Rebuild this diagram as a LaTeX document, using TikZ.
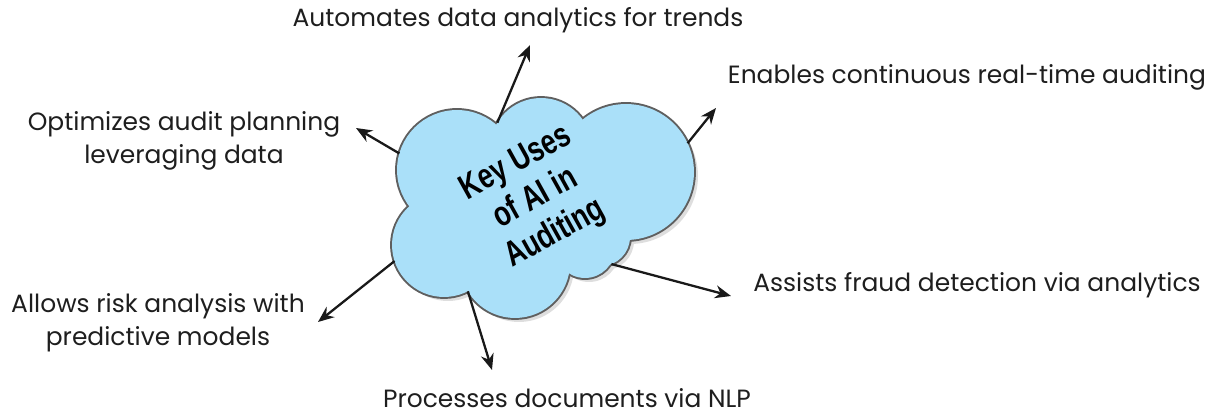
\documentclass[tikz,border=0pt]{standalone}
\usepackage{fontspec}
\setmainfont{Poppins}
\newfontfamily\titlefont{Liberation Sans}
\usepackage{tikz}
\usetikzlibrary{arrows, arrows.meta}

\definecolor{cloudblue}{RGB}{170,224,249}
\definecolor{cloudedge}{RGB}{95,95,95}
\definecolor{cloudshadow}{RGB}{222,222,222}
\definecolor{labeltext}{RGB}{30,30,30}

\begin{document}
\begin{tikzpicture}[x=0.02cm, y=-0.02cm,
	lobe/.style={circle, inner sep=0pt, outer sep=0pt, minimum size={#1*0.04cm}},
	arr/.style={line width=1.3pt, black!90, -{Stealth[length=3.2mm, width=2.6mm]}},
	lbl/.style={font=\fontsize{14.2}{18.8}\selectfont, text=labeltext, align=center, inner sep=0pt}]
	\useasboundingbox (0,0) rectangle (1211,415);
	% cloud made of overlapping lobes: shadow, outline, then fill
	\def\lobes{A/457/170/60, B/541/149/51, C/626/172/68, D/601/237/29,
		G/585/248/30, E/515/263/55, F/444/245/52}
	\foreach \n/\x/\y/\r in \lobes
		\fill [cloudshadow] (\x+4,\y+4) circle [radius=\r];
	\foreach \n/\x/\y/\r in \lobes
		\draw [cloudedge, line width=2.2pt] (\x,\y) circle [radius=\r];
	\fill [cloudblue] (540,205) circle [radius=60];
	\foreach \n/\x/\y/\r in \lobes
		\node [lobe=\r, fill=cloudblue] (lobe\n) at (\x,\y) {};
	\node [rotate=29, xscale=0.76, align=center, inner sep=0pt,
		font=\titlefont\bfseries\fontsize{20}{23}\selectfont]
		(title) at (536,199) {Key Uses\\of AI in\\Auditing};
	% labels
	\node [lbl] (trends) at (518,20) {Automates data analytics for trends};
	\node [lbl] (realtime) at (967,77) {Enables continuous real-time auditing};
	\node [lbl] (planning) at (184,141) {Optimizes audit planning\\leveraging data};
	\node [lbl] (fraud) at (977,285) {Assists fraud detection via analytics};
	\node [lbl] (risk) at (158,323) {Allows risk analysis with\\predictive models};
	\node [lbl] (nlp) at (567,398) {Processes documents via NLP};
	% arrow tips
	\coordinate (t1) at (530,45);
	\coordinate (t2) at (716,108);
	\coordinate (t3) at (356,128);
	\coordinate (t4) at (731,296);
	\coordinate (t5) at (318,322);
	\coordinate (t6) at (492,370);
	\draw [arr] (lobeB.149) -- (t1);
	\draw [arr] (lobeC.25) -- (t2);
	\draw [arr] (lobeA.164) -- (t3);
	\draw [arr] (lobeD.-69) -- (t4);
	\draw [arr] (lobeF.-162) -- (t5);
	\draw [arr] (lobeE.-149) -- (t6);
\end{tikzpicture}
\end{document}
